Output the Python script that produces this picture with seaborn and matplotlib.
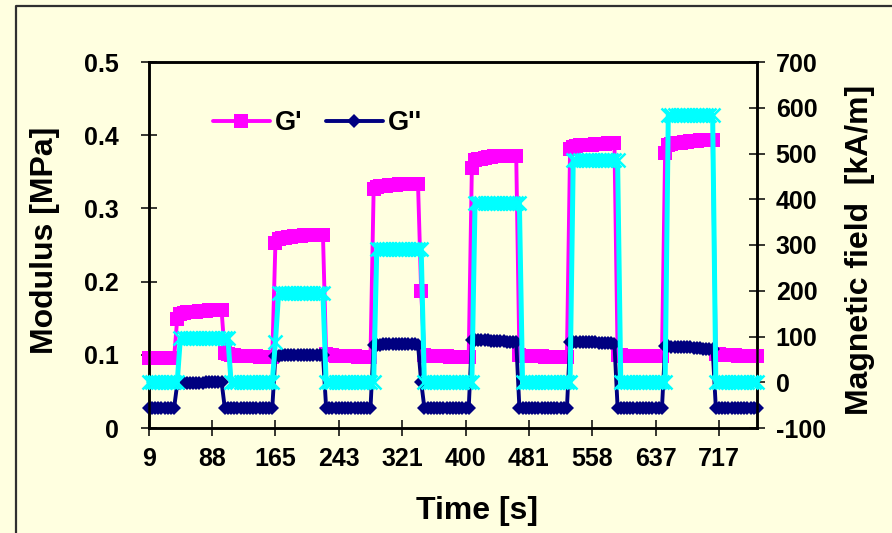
import numpy as np
import pandas as pd
import matplotlib
matplotlib.use("Agg")
import matplotlib.pyplot as plt
import seaborn as sns
from matplotlib import font_manager
from matplotlib.lines import Line2D
from matplotlib.ticker import FuncFormatter

# ---------------- data ----------------
time_labels = ["9", "88", "165", "243", "321", "400", "481", "558", "637", "717"]

g_prime = [
    0.095, 0.095, 0.095, 0.095, 0.095, 0.095, 0.095, 0.095, 0.095,
    0.149, 0.156, 0.157, 0.158, 0.158, 0.159, 0.159, 0.160, 0.160, 0.160, 0.161, 0.161, 0.161, 0.161, 0.161,
    0.102, 0.101, 0.100, 0.100, 0.099, 0.099, 0.099, 0.098, 0.098, 0.098, 0.098, 0.097, 0.097, 0.097, 0.097, 0.097,
    0.253, 0.258, 0.259, 0.260, 0.261, 0.261, 0.262, 0.262, 0.262, 0.263, 0.263, 0.263, 0.264, 0.264, 0.264, 0.264,
    0.101, 0.100, 0.100, 0.099, 0.099, 0.099, 0.098, 0.098, 0.098, 0.098, 0.097, 0.097, 0.097, 0.097, 0.097,
    0.326, 0.329, 0.330, 0.331, 0.331, 0.332, 0.332, 0.332, 0.333, 0.333, 0.333, 0.333, 0.334, 0.334, 0.334,
    0.187,
    0.100, 0.099, 0.099, 0.099, 0.098, 0.098, 0.098, 0.098, 0.097, 0.097, 0.097, 0.097, 0.097, 0.097, 0.097,
    0.355, 0.366, 0.367, 0.368, 0.369, 0.370, 0.370, 0.371, 0.371, 0.371, 0.372, 0.372, 0.372, 0.372, 0.372,
    0.100, 0.099, 0.099, 0.099, 0.098, 0.098, 0.098, 0.098, 0.097, 0.097, 0.097, 0.097, 0.097, 0.097, 0.097, 0.097,
    0.381, 0.384, 0.385, 0.386, 0.386, 0.387, 0.387, 0.387, 0.388, 0.388, 0.388, 0.388, 0.389, 0.389, 0.389,
    0.100, 0.100, 0.099, 0.099, 0.099, 0.099, 0.098, 0.098, 0.098, 0.098, 0.098, 0.098, 0.098, 0.098, 0.098,
    0.376, 0.386, 0.388, 0.389, 0.390, 0.390, 0.391, 0.391, 0.392, 0.392, 0.392, 0.393, 0.393, 0.393, 0.393, 0.393,
    0.101, 0.101, 0.100, 0.100, 0.100, 0.100, 0.100, 0.099, 0.099, 0.099, 0.099, 0.099, 0.099, 0.099,
]

g_double = [
    0.027, 0.027, 0.027, 0.027, 0.027, 0.027, 0.027, 0.027, 0.027,
    0.060, 0.061, 0.061, 0.061, 0.062, 0.062, 0.062, 0.062, 0.062, 0.063, 0.063, 0.063, 0.063, 0.063, 0.063,
    0.028, 0.028, 0.028, 0.028, 0.028, 0.027, 0.027, 0.027, 0.027, 0.027, 0.027, 0.027, 0.027, 0.027, 0.027, 0.027,
    0.099, 0.099, 0.100, 0.100, 0.100, 0.100, 0.100, 0.100, 0.100, 0.100, 0.100, 0.100, 0.100, 0.100, 0.100, 0.100,
    0.028, 0.028, 0.028, 0.028, 0.028, 0.027, 0.027, 0.027, 0.027, 0.027, 0.027, 0.027, 0.027, 0.027, 0.027,
    0.113, 0.114, 0.114, 0.115, 0.115, 0.115, 0.115, 0.115, 0.115, 0.115, 0.115, 0.115, 0.115, 0.115, 0.114,
    0.063,
    0.028, 0.028, 0.028, 0.028, 0.028, 0.027, 0.027, 0.027, 0.027, 0.027, 0.027, 0.027, 0.027, 0.027, 0.027,
    0.120, 0.120, 0.120, 0.120, 0.120, 0.120, 0.119, 0.119, 0.119, 0.119, 0.119, 0.118, 0.118, 0.118, 0.118,
    0.028, 0.028, 0.028, 0.028, 0.028, 0.027, 0.027, 0.027, 0.027, 0.027, 0.027, 0.027, 0.027, 0.027, 0.027, 0.027,
    0.118, 0.118, 0.118, 0.118, 0.117, 0.117, 0.117, 0.117, 0.117, 0.116, 0.116, 0.116, 0.116, 0.116, 0.115,
    0.028, 0.028, 0.028, 0.028, 0.028, 0.027, 0.027, 0.027, 0.027, 0.027, 0.027, 0.027, 0.027, 0.027, 0.027,
    0.112, 0.112, 0.111, 0.111, 0.111, 0.110, 0.110, 0.110, 0.110, 0.109, 0.109, 0.109, 0.108, 0.108, 0.108, 0.108,
    0.028, 0.028, 0.028, 0.028, 0.027, 0.027, 0.027, 0.027, 0.027, 0.027, 0.027, 0.027, 0.027, 0.027,
]

magnetic_field = [
    0, 0, 0, 0, 0, 0, 0, 0, 0, 0,
    97, 97, 97, 97, 97, 97, 97, 97, 97, 97, 97, 97, 97, 97, 97, 97,
    0, 0, 0, 0, 0, 0, 0, 0, 0, 0, 0, 0, 0, 0,
    89,
    194, 194, 194, 194, 194, 194, 194, 194, 194, 194, 194, 194, 194, 194, 194,
    0, 0, 0, 0, 0, 0, 0, 0, 0, 0, 0, 0, 0, 0, 0, 0,
    292, 292, 292, 292, 292, 292, 292, 292, 292, 292, 292, 292, 292, 292, 292,
    0, 0, 0, 0, 0, 0, 0, 0, 0, 0, 0, 0, 0, 0, 0, 0,
    391, 391, 391, 391, 391, 391, 391, 391, 391, 391, 391, 391, 391, 391, 391,
    0, 0, 0, 0, 0, 0, 0, 0, 0, 0, 0, 0, 0, 0, 0, 0,
    486, 486, 486, 486, 486, 486, 486, 486, 486, 486, 486, 486, 486, 486, 486,
    0, 0, 0, 0, 0, 0, 0, 0, 0, 0, 0, 0, 0, 0, 0,
    584, 584, 584, 584, 584, 584, 584, 584, 584, 584, 584, 584, 584, 584, 584,
    0, 0, 0, 0, 0, 0, 0, 0, 0, 0, 0, 0, 0, 0,
]

left_ticks = [0, 0.1, 0.2, 0.3, 0.4, 0.5]
right_ticks = [-100, 0, 100, 200, 300, 400, 500, 600, 700]

# ---------------- style ----------------
sns.set_theme(style="ticks")
names = {f.name for f in font_manager.fontManager.ttflist}
base = "Liberation Sans" if "Liberation Sans" in names else "DejaVu Sans"
narrow = "Liberation Sans Narrow" if "Liberation Sans Narrow" in names else base
plt.rcParams["font.family"] = [base, "DejaVu Sans"]
plt.rcParams["font.weight"] = "bold"
plt.rcParams["axes.unicode_minus"] = False
for key in ("text.color", "axes.labelcolor", "xtick.color", "ytick.color", "axes.edgecolor"):
    plt.rcParams[key] = "black"

BG = "#FFFFE0"
MAGENTA = "#FF00FF"
NAVY = "#000080"
CYAN = "#00FFFF"

W, H = 892, 533
fig = plt.figure(figsize=(W / 100, H / 100), dpi=100, facecolor=BG)
L, R, T, B = 148.7, 757.0, 62.0, 428.0
ax = fig.add_axes([L / W, 1 - B / H, (R - L) / W, (B - T) / H])
ax.set_facecolor(BG)
ax2 = ax.twinx()

idx = np.arange(len(g_prime))
df = pd.DataFrame({"i": idx, "gp": g_prime, "gpp": g_double, "h": magnetic_field})

sns.lineplot(data=df, x="i", y="gp", ax=ax, color=MAGENTA, marker="s", markersize=10.5,
             markeredgewidth=0, markeredgecolor=MAGENTA, linewidth=2.8,
             clip_on=False, legend=False, sort=False, errorbar=None, zorder=3)
sns.lineplot(data=df, x="i", y="gpp", ax=ax, color=NAVY, marker="D", markersize=7.5,
             markeredgewidth=0, markeredgecolor=NAVY, linewidth=2.8,
             clip_on=False, legend=False, sort=False, errorbar=None, zorder=4)
sns.lineplot(data=df, x="i", y="h", ax=ax2, color=CYAN, marker="x", markersize=9.5,
             markeredgewidth=1.8, markeredgecolor=CYAN, linewidth=3.6,
             clip_on=False, legend=False, sort=False, errorbar=None, zorder=3)

ax.set_xlim(0, len(g_prime) - 1)
ax.set_ylim(0, 0.5)
ax2.set_ylim(-100, 700)

xfam = narrow
xtick_size = 20 if narrow != base else 18
xlabel_size = 26 if narrow != base else 23

ax.set_xticks(np.arange(0, 20 * len(time_labels), 20))
ax.set_xticklabels(time_labels, fontfamily=xfam, fontsize=xtick_size, fontweight="bold")
ax.set_yticks(left_ticks)
ax.yaxis.set_major_formatter(FuncFormatter(lambda v, p: f"{v:g}"))
ax2.set_yticks(right_ticks)

ax.tick_params(axis="x", direction="inout", length=12, width=1.1, pad=7.5, colors="black",
               bottom=True, top=False)
ax.tick_params(axis="y", direction="inout", length=12, width=1.1, pad=15.5, labelsize=18,
               colors="black", left=True, right=False)
ax2.tick_params(axis="y", direction="inout", length=12, width=1.1, pad=7.5, labelsize=18,
                colors="black", right=True, left=False)
for lbl in ax.get_yticklabels() + ax2.get_yticklabels():
    lbl.set_fontweight("bold")

for a in (ax, ax2):
    for s in a.spines.values():
        s.set_visible(True)
        s.set_color("black")
        s.set_linewidth(1.8)

ax.set_xlabel("Time [s]", fontfamily=xfam, fontsize=xlabel_size, fontweight="bold",
              va="center", color="black")
ax.xaxis.set_label_coords((477 - L) / (R - L), (B - 511) / (B - T))
ax.set_ylabel("Modulus [MPa]", fontsize=23, fontweight="bold", va="center", color="black")
ax.yaxis.set_label_coords((45 - L) / (R - L), (B - 240) / (B - T))
ax2.set_ylabel("Magnetic field  [kA/m]", fontsize=23, fontweight="bold", va="center",
               color="black")
ax2.yaxis.set_label_coords((860 - L) / (R - L), (B - 250) / (B - T))

handles = [ax.lines[0], ax.lines[1]]
ax.legend(handles=handles, labels=["G'", "G''"], loc="center left",
          bbox_to_anchor=((213 - L) / (R - L), (B - 123) / (B - T)), ncol=2, frameon=False,
          handlelength=2.1, handletextpad=0.2, columnspacing=0.85, borderpad=0,
          borderaxespad=0, prop={"weight": "bold", "size": 19.5})

# chart-area border (top-left corner visible in the reference)
fig.add_artist(Line2D([16 / W, 16 / W, 1.01], [-0.01, 1 - 5.5 / H, 1 - 5.5 / H],
                      transform=fig.transFigure, color="#303030", lw=1.6))

fig.savefig("out.png", dpi=100, facecolor=BG)
